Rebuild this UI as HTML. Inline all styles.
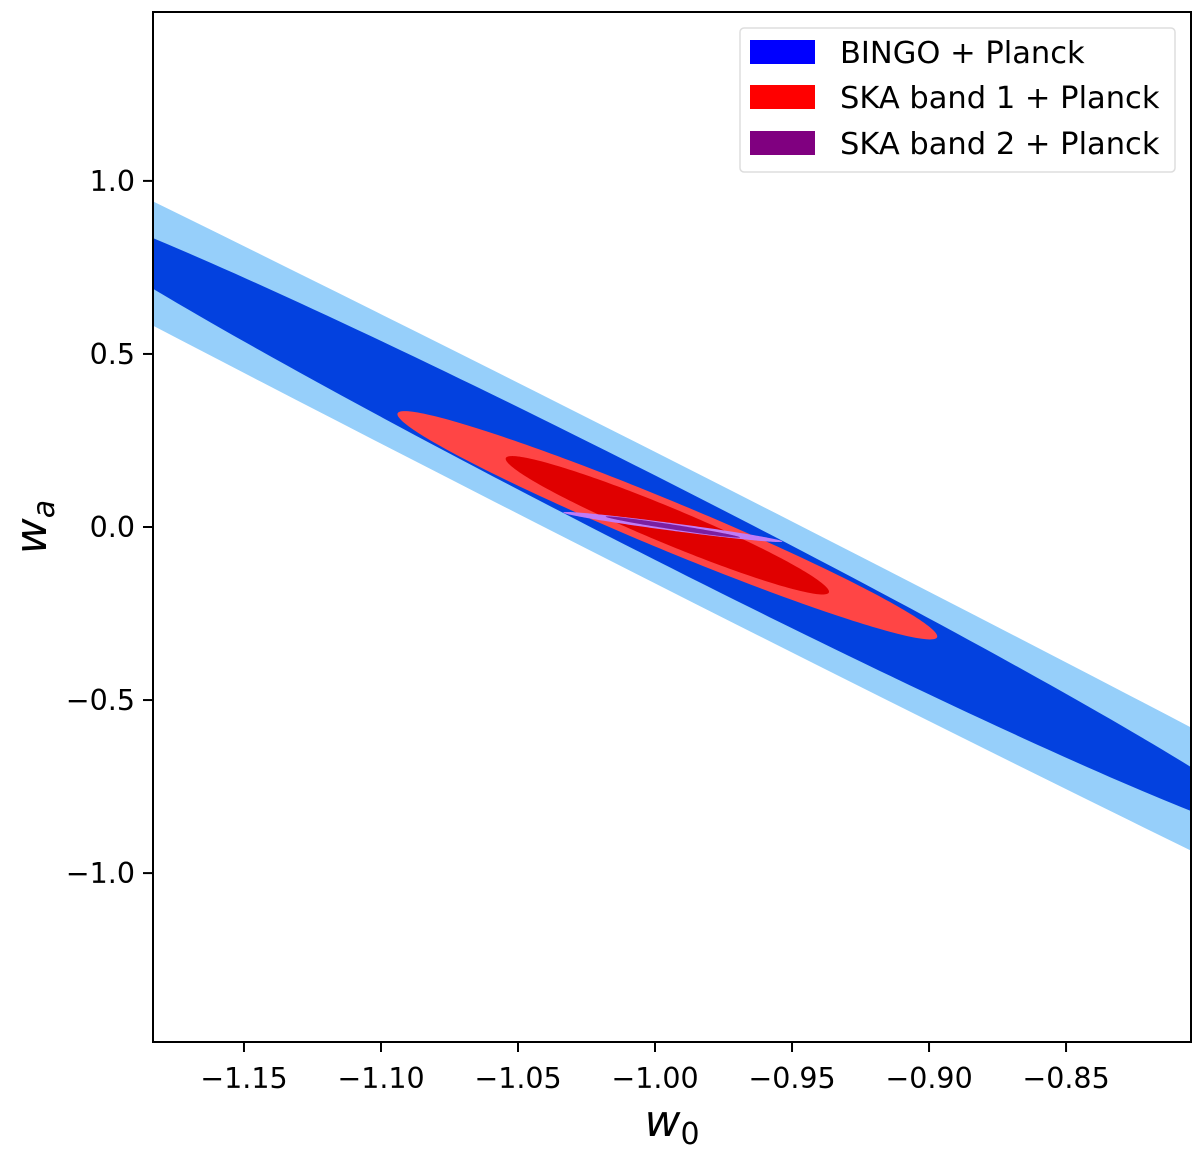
<!DOCTYPE html>
<html><head><meta charset="utf-8"><style>
html,body{margin:0;padding:0;background:#fff;overflow:hidden;width:1200px;height:1153px;}
svg{display:block;}
svg text{font-family:"DejaVu Sans","Liberation Sans",sans-serif;}
</style></head><body>
<svg id="chart" width="1200" height="1153" viewBox="0 0 1200 1153" xmlns="http://www.w3.org/2000/svg">
<defs><clipPath id="plotclip"><rect x="153" y="12" width="1038" height="1030"/></clipPath></defs>
<g id="contours" clip-path="url(#plotclip)"></g>
<rect x="153" y="12" width="1038" height="1030" fill="none" stroke="#000" stroke-width="2"/>
<g id="xticks"></g>
<g id="yticks"></g>
<text x="672" y="1136" font-size="44" font-style="italic" text-anchor="middle">w<tspan font-size="30" dy="8" font-style="normal">0</tspan></text>
<text transform="translate(46,527) rotate(-90)" font-size="44" font-style="italic" text-anchor="middle">w<tspan font-size="30" dy="8">a</tspan></text>
<g>
<rect x="740" y="28" width="435" height="144" rx="4" fill="#fff" fill-opacity="0.8" stroke="#ddd" stroke-width="1.5"/>
<g><rect x="750" y="40" width="65" height="24" fill="#0000ff"/><text x="840" y="63" font-size="30.5">BINGO + Planck</text></g>
<g><rect x="750" y="85" width="65" height="24" fill="#ff0000"/><text x="840" y="108" font-size="30.5">SKA band 1 + Planck</text></g>
<g><rect x="750" y="131" width="65" height="24" fill="#800080"/><text x="840" y="154" font-size="30.5">SKA band 2 + Planck</text></g>
</g>
</svg>
<script>
// data
const xTicks = [-1.15, -1.10, -1.05, -1.00, -0.95, -0.90, -0.85];
const xTickLabels = ["\u22121.15","\u22121.10","\u22121.05","\u22121.00","\u22120.95","\u22120.90","\u22120.85"];
const yTicks = [1.0, 0.5, 0.0, -0.5, -1.0];
const yTickLabels = ["1.0","0.5","0.0","\u22120.5","\u22121.0"];
// contour ellipses: center (w0, wa), major-axis tip (w0, wa), vertical half-thickness at center (wa)
const contourNames = ["bingo-2sigma","bingo-1sigma","ska1-2sigma","ska1-1sigma","ska2-2sigma","ska2-1sigma"];
const contourCenterW0 = [-1.0, -1.0, -0.9955, -0.9955, -0.9935, -0.9935];
const contourCenterWa = [0.027, 0.027, 0.005, 0.005, 0.0, 0.0];
const contourTipW0 = [-1.56, -1.229, -1.094, -1.0545, -1.0335, -1.018];
const contourTipWa = [2.272, 0.945, 0.326, 0.197, 0.042, 0.030];
const contourHalfThick = [0.19, 0.122, 0.076, 0.056, 0.011, 0.007];
const contourColors = ["#96cffa","#0341df","#ff4545","#e00000","#c07cf6","#7b1fa0"];

const X0=-1.1832, X1=-0.8044, Y0=-1.488, Y1=1.488;
const PL=153, PR=1191, PT=12, PB=1042;
function sx(v){return PL+(v-X0)/(X1-X0)*(PR-PL);}
function sy(v){return PB-(v-Y0)/(Y1-Y0)*(PB-PT);}
const NS="http://www.w3.org/2000/svg";
const cg=document.getElementById('contours');
for(let i=0;i<contourNames.length;i++){
  const cx=contourCenterW0[i], cy=contourCenterWa[i];
  const ax=contourTipW0[i]-cx, ay=contourTipWa[i]-cy, h=contourHalfThick[i];
  let d="";
  for(let k=0;k<=240;k++){
    const t=k/240*2*Math.PI;
    const px=sx(cx+Math.cos(t)*ax), py=sy(cy+Math.cos(t)*ay+Math.sin(t)*h);
    d+=(k?"L":"M")+px.toFixed(2)+","+py.toFixed(2);
  }
  const p=document.createElementNS(NS,'path');
  p.setAttribute('d',d+"Z");
  p.setAttribute('fill',contourColors[i]);
  
  
  cg.appendChild(p);
}
const xg=document.getElementById('xticks');
for(let i=0;i<xTicks.length;i++){
  const x=sx(xTicks[i]);
  const l=document.createElementNS(NS,'line');
  l.setAttribute('x1',x);l.setAttribute('x2',x);l.setAttribute('y1',PB);l.setAttribute('y2',PB+10);
  l.setAttribute('stroke','#000');l.setAttribute('stroke-width','2');
  
  
  xg.appendChild(l);
  const t=document.createElementNS(NS,'text');
  t.setAttribute('x',x);t.setAttribute('y',PB+46);t.setAttribute('font-size','28.5');t.setAttribute('text-anchor','middle');
  t.textContent=xTickLabels[i];
  
  
  xg.appendChild(t);
}
const yg=document.getElementById('yticks');
for(let i=0;i<yTicks.length;i++){
  const y=sy(yTicks[i]);
  const l=document.createElementNS(NS,'line');
  l.setAttribute('x1',PL-10);l.setAttribute('x2',PL);l.setAttribute('y1',y);l.setAttribute('y2',y);
  l.setAttribute('stroke','#000');l.setAttribute('stroke-width','2');
  
  
  yg.appendChild(l);
  const t=document.createElementNS(NS,'text');
  t.setAttribute('x',PL-18);t.setAttribute('y',y+10);t.setAttribute('font-size','28.5');t.setAttribute('text-anchor','end');
  t.textContent=yTickLabels[i];
  
  
  yg.appendChild(t);
}
</script>
</body></html>
